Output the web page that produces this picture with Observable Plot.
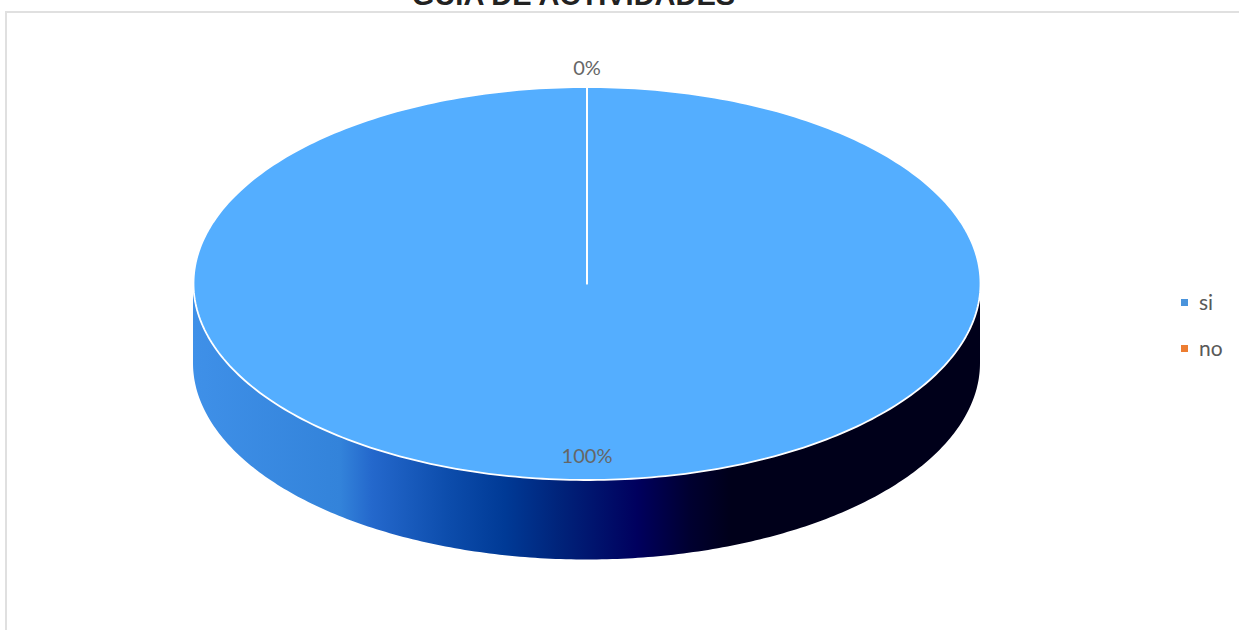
<!DOCTYPE html>
<html>
<head>
<meta charset="utf-8">
<script src="https://cdn.jsdelivr.net/npm/d3@7"></script>
<script src="https://cdn.jsdelivr.net/npm/@observablehq/plot@0.6"></script>
<style>
  html, body { margin: 0; padding: 0; background: #fff; overflow: hidden; }
  #wrap { position: relative; width: 1239px; height: 630px; overflow: hidden; }
  #frame { position: absolute; left: 5px; top: 11px; width: 1300px; height: 700px;
           border: 2px solid #e0e0e0; box-sizing: border-box; z-index: 2; pointer-events: none; }
  #title { position: absolute; left: 0; width: 1147px; top: -19.5px; text-align: center;
           font: bold 29px/29px "Liberation Sans", Arial, sans-serif; color: #222; z-index: 3; white-space: nowrap; }
  #legend { position: absolute; left: 1181px; top: 291px; z-index: 3;
            font: 21px/1 Lato, "Open Sans", sans-serif; color: #595959; }
  .item { position: absolute; left: 0; white-space: nowrap; }
  .sw { position: absolute; left: 0; width: 7px; height: 7px; }
  .lbl { position: absolute; left: 18px; top: 0; }
  #chart { position: absolute; left: 0; top: 0; z-index: 1; }
</style>
</head>
<body>
<div id="wrap">
  <div id="frame"></div>
  <div id="chart"></div>
  <div id="title"></div>
  <div id="legend"></div>
</div>
<script>
// ---- data ----
const title = "GUIA DE ACTIVIDADES";
const categories = ["si", "no"];
const values = [100, 0];
const percentLabels = ["100%", "0%"];

// ---- style ----
const topColors = { si: "#54aeff", no: "#ed7d31" };
const legendColors = { si: "#4a94dc", no: "#ed7d31" };
const depth = 80 / 196.5; // side wall thickness in ellipse units

const pie = d3.pie().sort(null).value(d => d)(values);
const slices = pie.map((p, i) => ({ cat: categories[i], label: percentLabels[i], value: values[i], a0: p.startAngle, a1: p.endAngle }));

// top face polygons
const topPts = [];
for (const s of slices) {
  const n = Math.max(2, Math.ceil((s.a1 - s.a0) / (2 * Math.PI) * 360));
  topPts.push({ cat: s.cat, x: 0, y: 0 });
  for (let k = 0; k <= n; k++) {
    const a = s.a0 + (s.a1 - s.a0) * k / n;
    topPts.push({ cat: s.cat, x: Math.sin(a), y: -Math.cos(a) });
  }
  topPts.push({ cat: s.cat, x: 0, y: 0 });
}

// front side wall (visible between 90° and 270°)
const sidePts = [];
for (const s of slices) {
  const b0 = Math.max(s.a0, Math.PI / 2), b1 = Math.min(s.a1, 3 * Math.PI / 2);
  if (b1 <= b0) continue;
  const n = 240;
  for (let k = 0; k <= n; k++) {
    const a = b0 + (b1 - b0) * k / n;
    const y = -Math.cos(a);
    sidePts.push({ cat: s.cat, x: Math.sin(a), y1: y, y2: y + depth });
  }
}

// labels
const labelPts = slices.map(s => {
  const m = (s.a0 + s.a1) / 2;
  const r = s.value / d3.sum(values) > 0.05 ? 0.88 : 1.094;
  return { label: s.label, x: Math.sin(m) * r, y: -Math.cos(m) * r };
});

const marks = [
  Plot.areaY(sidePts, { x: "x", y1: "y1", y2: "y2", z: "cat", fill: "url(#sideGrad)", curve: "linear" })
];
for (const c of categories) {
  marks.push(Plot.line(topPts.filter(d => d.cat === c), { x: "x", y: "y", fill: topColors[c], stroke: "white", strokeWidth: 1.8, curve: "linear" }));
}
marks.push(Plot.text(labelPts, { x: "x", y: "y", text: "label", fontSize: 20, fill: "#666666", fontFamily: "Lato, 'Open Sans', sans-serif" }));

const svg = Plot.plot({
  width: 1239, height: 630, margin: 0,
  style: { background: "transparent" },
  x: { domain: [-1, 1], range: [193, 980], axis: null },
  y: { domain: [-1, 1], range: [86.5, 479.5], axis: null },
  marks
});

const defs = d3.select(svg).insert("defs", ":first-child");
const g = defs.append("linearGradient").attr("id", "sideGrad")
  .attr("gradientUnits", "userSpaceOnUse").attr("x1", 193).attr("x2", 980).attr("y1", 0).attr("y2", 0);
const stops = [
  [193, "#3f90e8"], [340, "#3383da"], [372, "#2468cc"], [450, "#0c4cab"], [505, "#003a96"],
  [560, "#00237a"], [637, "#00005e"], [690, "#000030"], [731, "#00001a"], [980, "#00001a"]
];
for (const [x, c] of stops) g.append("stop").attr("offset", ((x - 193) / (980 - 193)).toFixed(4)).attr("stop-color", c);

document.getElementById("chart").appendChild(svg);
document.getElementById("title").textContent = title;

const legend = document.getElementById("legend");
categories.forEach((c, i) => {
  const it = document.createElement("div");
  it.className = "item";
  it.style.top = (i * 46) + "px";
  const sw = document.createElement("div");
  sw.className = "sw"; sw.style.background = legendColors[c]; sw.style.top = "8px";
  const lb = document.createElement("div");
  lb.className = "lbl"; lb.textContent = c;
  it.appendChild(sw); it.appendChild(lb);
  legend.appendChild(it);
});
</script>
</body>
</html>
